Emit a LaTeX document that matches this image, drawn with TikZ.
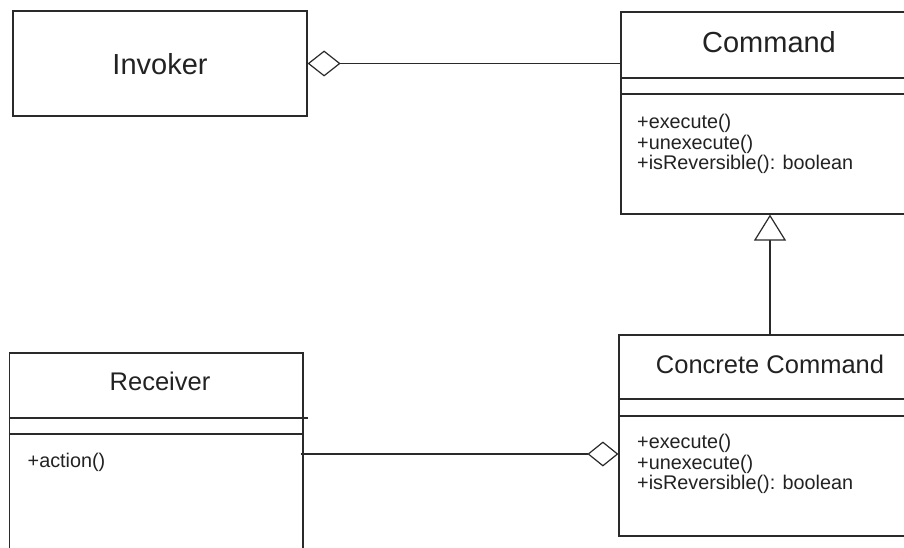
\documentclass[tikz,border=0pt]{standalone}
\usepackage{fontspec}
\setmainfont{Liberation Sans}
\usetikzlibrary{arrows.meta}
\definecolor{ink}{HTML}{2A2A2A}
\definecolor{txt}{HTML}{222222}
\tikzset{
  umlbox/.style={draw=ink, line width=1.2pt, fill=white, inner sep=0pt},
  divider/.style={draw=ink, line width=1.2pt},
  bigtitle/.style={text=txt, inner sep=0pt, anchor=base, font=\fontsize{29}{34}\selectfont},
  midtitle/.style={text=txt, inner sep=0pt, anchor=base, font=\fontsize{25.5}{30}\selectfont},
  method/.style={text=txt, inner sep=0pt, anchor=base west, font=\fontsize{19.8}{22}\selectfont},
  conn/.style={draw=ink, line width=1.2pt},
  aggr/.style={conn},
  gen/.style={conn, -{Triangle[open, length=26pt, width=32pt, fill=white]}},
}
\begin{document}
\begin{tikzpicture}[x=1pt, y=-1pt]
\useasboundingbox (0,0) rectangle (904,548);
\fill[white] (0,0) rectangle (904,548);
\clip (0,0) rectangle (904,548);

% Invoker
\node[umlbox, minimum width=294pt, minimum height=105pt] (invoker) at (160,63.5) {};
\node[bigtitle] (invokerT) at (160,74.3) {Invoker};

% Command
\node[umlbox, minimum width=300pt, minimum height=202pt] (command) at (771,113) {};
\node[bigtitle] (commandT) at (769,52.7) {Command};
\draw[divider] (command.west |- 0,78) -- (command.east |- 0,78);
\draw[divider] (command.west |- 0,94) -- (command.east |- 0,94);
\node[method] (c1) at (637,128.3) {+execute()};
\node[method] (c2) at (637,149.1) {+unexecute()};
\node[method] (c3) at (637,169.9) {+isReversible(): boolean};

% Receiver
\node[umlbox, minimum width=293.5pt, minimum height=207pt] (receiver) at (156.25,456.5) {};
\node[midtitle] (receiverT) at (160,390) {Receiver};
\draw[divider] (receiver.west |- 0,418) -- ([xshift=4pt]receiver.east |- 0,418);
\draw[divider] (receiver.west |- 0,434) -- (receiver.east |- 0,434);
\node[method] (r1) at (27.5,467) {+action()};

% Concrete Command
\node[umlbox, minimum width=302pt, minimum height=201pt] (ccmd) at (770,435.5) {};
\node[midtitle] (ccmdT) at (770,373.3) {Concrete Command};
\draw[divider] (ccmd.west |- 0,399) -- (ccmd.east |- 0,399);
\draw[divider] (ccmd.west |- 0,416) -- (ccmd.east |- 0,416);
\node[method] (k1) at (637,448.3) {+execute()};
\node[method] (k2) at (637,469.1) {+unexecute()};
\node[method] (k3) at (637,489.9) {+isReversible(): boolean};

% Connectors
\coordinate (recvPort) at ([xshift=-3pt]receiver.east |- 0,454);
\draw[aggr, {Diamond[open, length=33pt, width=26pt, fill=white]}-] (invoker.east) -- (invoker.east -| command.west);
\draw[aggr, -{Diamond[open, length=31pt, width=25pt, fill=white]}] (recvPort) -- (recvPort -| ccmd.west);
\draw[gen] (ccmd.north) -- (ccmd.north |- command.south);
\end{tikzpicture}
\end{document}
